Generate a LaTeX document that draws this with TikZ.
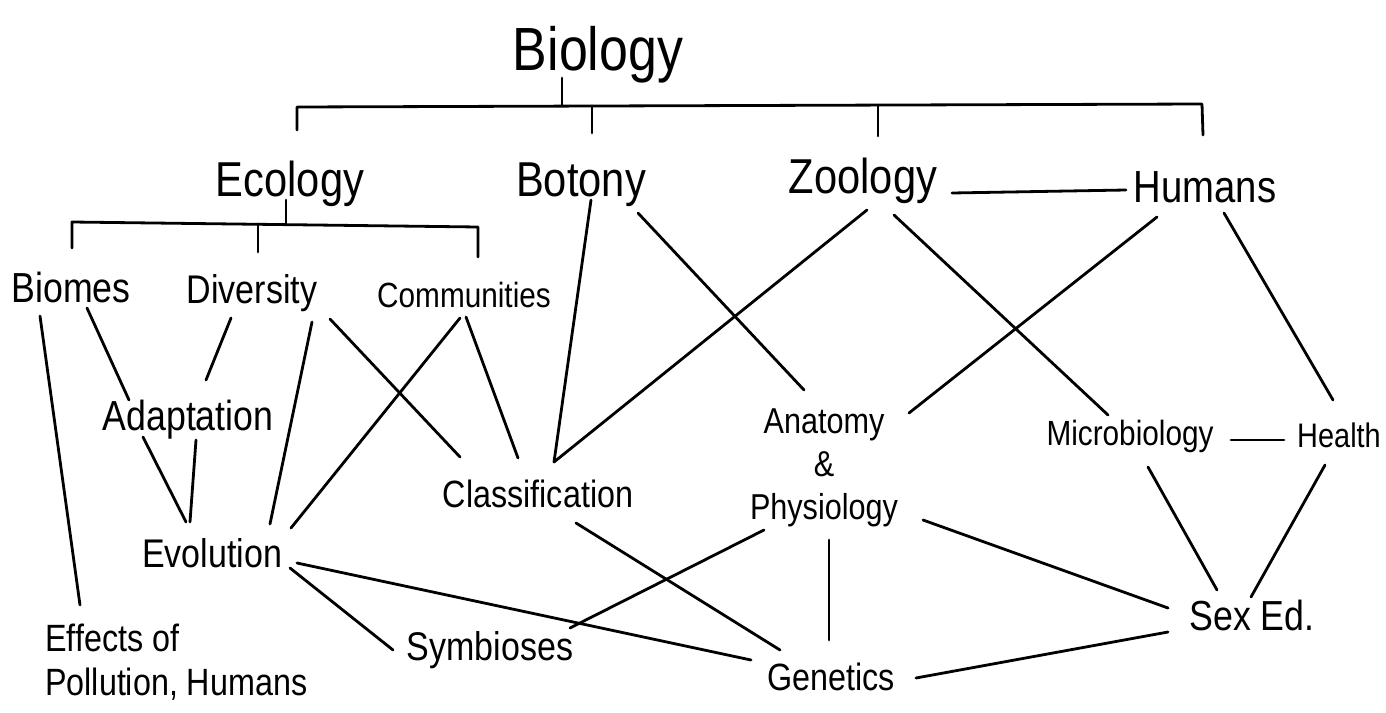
\documentclass[tikz,border=0pt]{standalone}
\usepackage{fontspec}
\setmainfont{Liberation Sans}[FakeStretch=0.85]
\usetikzlibrary{calc}
\tikzset{
  lbl/.style={inner sep=0pt, anchor=base, font=\fontsize{#1}{#1}\selectfont},
  ln/.style={line width=2.8pt, line cap=round, line join=round},
}
\begin{document}
\begin{tikzpicture}[x=1pt,y=-1pt]
\fill[white] (0,0) rectangle (1386,712);
\useasboundingbox (0,0) rectangle (1386,712);
% nodes
\node[lbl=61] (biology) at (598,70) {Biology};
\node[lbl=49] (ecology) at (290,196) {Ecology};
\node[lbl=49] (botony) at (581,196) {Botony};
\node[lbl=49] (zoology) at (863,193) {Zoology};
\node[lbl=45] (humans) at (1205,202) {Humans};
\node[lbl=42] (biomes) at (71,302) {Biomes};
\node[lbl=40] (diversity) at (252,303) {Diversity};
\node[lbl=35] (communities) at (464,307) {Communities};
\node[lbl=42] (adaptation) at (188,430) {Adaptation};
\node[lbl=40] (evolution) at (212,567) {Evolution};
\node[lbl=38] (classification) at (538,507) {Classification};
\node[inner sep=0pt, anchor=north, align=center, font=\fontsize{36}{43}\selectfont] (anatphys) at (824,409) {Anatomy\\\&\\Physiology};
\node[lbl=35] (microbiology) at (1130,445) {Microbiology};
\node[lbl=34] (health) at (1339,447) {Health};
\node[lbl=42] (sexed) at (1252,630) {Sex Ed.};
\node[lbl=40] (symbioses) at (490,660) {Symbioses};
\node[lbl=38] (genetics) at (831,690) {Genetics};
\node[inner sep=0pt, anchor=north west, align=left, font=\fontsize{38}{44}\selectfont] (effects) at (45,624) {Effects of\\Pollution, Humans};
% tree brackets
\draw[ln] ($(biology.base)+(-36,8)$) -- ($(biology.base)+(-36,35)$);
\draw[ln] ($(ecology.base)+(7,-66)$) -- ($(ecology.base)+(7,-89)$) -- ($(humans.base)+(-3,-98)$) -- ($(humans.base)+(-2,-67)$);
\draw[ln] ($(botony.base)+(11,-90)$) -- ($(botony.base)+(11,-63)$);
\draw[ln] ($(zoology.base)+(15,-87)$) -- ($(zoology.base)+(15,-57)$);
\draw[ln] ($(ecology.base)+(-4,4)$) -- ($(ecology.base)+(-4,27)$);
\draw[ln] ($(biomes.base)+(1,-54)$) -- ($(biomes.base)+(1,-80)$) -- ($(communities.base)+(14,-80)$) -- ($(communities.base)+(14,-50)$);
\draw[ln] ($(diversity.base)+(6,-79)$) -- ($(diversity.base)+(6,-51)$);
% connectors
\draw[ln] ($(biomes.base)+(-31,14)$) -- ($(effects.north west)+(35,-19)$);
\draw[ln] ($(biomes.base)+(16,6)$) -- ($(adaptation.base)+(-59,-30)$);
\draw[ln] ($(diversity.base)+(-21,15)$) -- ($(adaptation.base)+(18,-50)$);
\draw[ln] ($(adaptation.base)+(-45,7)$) -- ($(evolution.base)+(-26,-45)$);
\draw[ln] ($(adaptation.base)+(8,10)$) -- ($(evolution.base)+(-22,-45)$);
\draw[ln] ($(diversity.base)+(60,19)$) -- ($(evolution.base)+(58,-43)$);
\draw[ln] ($(diversity.base)+(78,16)$) -- ($(classification.base)+(-78,-50)$);
\draw[ln] ($(communities.base)+(-4,11)$) -- ($(evolution.base)+(79,-39)$);
\draw[ln] ($(communities.base)+(2,10)$) -- ($(classification.base)+(-20,-49)$);
\draw[ln] ($(botony.base)+(10,4)$) -- ($(classification.base)+(16,-45)$);
\draw[ln] ($(botony.base)+(57,17)$) -- ($(anatphys.north)+(-20,-19)$);
\draw[ln] ($(zoology.base)+(4,17)$) -- ($(classification.base)+(16,-45)$);
\draw[ln] ($(zoology.base)+(31,22)$) -- ($(microbiology.base)+(-22,-30)$);
\draw[ln] ($(zoology.base)+(89,0)$) -- ($(humans.base)+(-79,-12)$);
\draw[ln] ($(humans.base)+(-48,15)$) -- ($(anatphys.north)+(85,4)$);
\draw[ln] ($(humans.base)+(19,11)$) -- ($(health.base)+(-6,-47)$);
\draw[ln] ($(microbiology.base)+(101,-5)$) -- ($(health.base)+(-55,-7)$);
\draw[ln] ($(microbiology.base)+(18,22)$) -- ($(sexed.base)+(-35,-40)$);
\draw[ln] ($(health.base)+(-14,18)$) -- ($(sexed.base)+(-1,-33)$);
\draw[ln] ($(anatphys.north)+(99,111)$) -- ($(sexed.base)+(-84,-22)$);
\draw[ln] ($(anatphys.north)+(-60,121)$) -- ($(symbioses.base)+(80,-32)$);
\draw[ln] ($(anatphys.north)+(5,131)$) -- ($(genetics.base)+(-2,-50)$);
\draw[ln] ($(classification.base)+(38,16)$) -- ($(genetics.base)+(-51,-40)$);
\draw[ln] ($(evolution.base)+(85,-4)$) -- ($(genetics.base)+(-80,-30)$);
\draw[ln] ($(evolution.base)+(78,1)$) -- ($(symbioses.base)+(-97,-10)$);
\draw[ln] ($(genetics.base)+(85,-12)$) -- ($(sexed.base)+(-84,2)$);
\end{tikzpicture}
\end{document}
